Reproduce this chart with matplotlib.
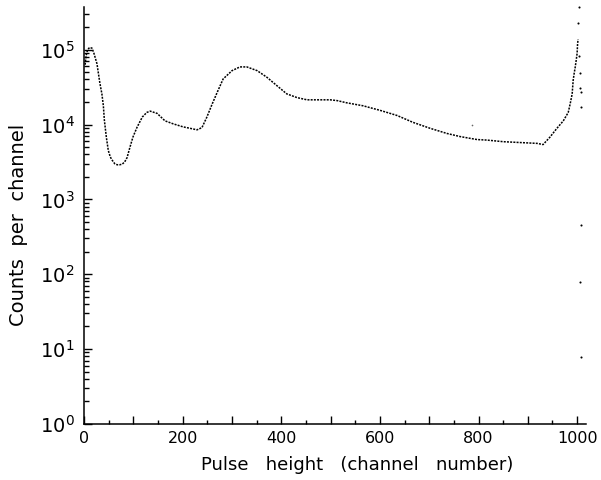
"""Pulse height spectrum, counts per channel on a log scale."""

from __future__ import annotations

import math

import matplotlib
matplotlib.use("Agg")
import matplotlib.pyplot as plt
import matplotlib.ticker as ticker

# main spectrum (channel, counts)
CHANNEL = [
    2, 4, 7, 11, 16, 20, 26, 29, 32, 36, 39, 41, 45, 49, 53, 56, 62, 67, 72, 77,
    82, 87, 93, 99, 107, 118, 127, 134, 148, 164, 181, 201, 215, 229, 239, 249,
    260, 270, 282, 300, 316, 330, 351, 371, 391, 411, 432, 452, 479, 499, 513,
    533, 566, 600, 635, 667, 702, 736, 763, 797, 817, 850, 884, 919, 931, 945,
    959, 972, 982, 986, 990, 992, 994, 996, 998, 1000, 1001, 1002,
]
COUNTS = [
    63000, 83000, 100000, 107000, 105000, 89000, 65000, 48000, 35500, 25700,
    17800, 11500, 6800, 4500, 3700, 3400, 3000, 2900, 2900, 2950,
    3150, 3600, 5000, 6800, 9100, 12600, 14500, 15100, 14100, 11200,
    10200, 9300, 8900, 8500, 9100, 12600, 19000, 27000, 40700, 52500,
    58900, 58900, 52500, 42700, 33100, 25700, 22900, 21400, 21400, 21400,
    20900, 19500, 17800, 15500, 13200, 10700, 8900, 7600, 6900, 6300,
    6200, 5900, 5750, 5600, 5400, 6800, 8900, 11200, 14500, 19000,
    25700, 38900, 48000, 57500, 70800, 89000, 120000, 138000,
]

# isolated points near the top channels
STRAY_CHANNEL = [1002, 1003, 1004, 1006, 1006, 1008, 1008, 1008, 1006, 1008]
STRAY_COUNTS = [229000, 370000, 83000, 49000, 31000, 27500, 17000, 450, 78, 7.8]
# one faint dot under the curve
FAINT_CHANNEL = [787]
FAINT_COUNTS = [9800]

X_TICKS = [0, 200, 400, 600, 800, 1000]


def plot(out_png: str) -> None:
    plt.rcParams["font.family"] = ["DejaVu Sans"]
    plt.rcParams["mathtext.fontset"] = "dejavusans"

    fig = plt.figure(figsize=(6.01, 4.80), dpi=100, facecolor="white")
    ax = fig.add_axes([0.140, 0.117, 0.835, 0.868])

    ax.plot(CHANNEL, COUNTS, color="black", linewidth=1.1, linestyle=(0, (1.3, 0.8)))
    ax.plot(STRAY_CHANNEL, STRAY_COUNTS, linestyle="none", marker="o",
            markersize=1.5, color="black", markeredgewidth=0, clip_on=False)
    ax.plot(FAINT_CHANNEL, FAINT_COUNTS, linestyle="none", marker="o",
            markersize=1.2, color="#666666", markeredgewidth=0)

    ax.set_yscale("log")
    ax.set_xlim(0, 1018)
    ax.set_ylim(1, 3.7e5)

    for side in ("top", "right"):
        ax.spines[side].set_visible(False)
    for side in ("left", "bottom"):
        ax.spines[side].set_linewidth(1.1)

    ax.xaxis.set_major_locator(ticker.MultipleLocator(100))
    ax.xaxis.set_minor_locator(ticker.MultipleLocator(50))
    ax.xaxis.set_major_formatter(
        ticker.FuncFormatter(lambda v, p: f"{int(v)}" if int(v) in X_TICKS else "")
    )
    ax.yaxis.set_major_locator(ticker.LogLocator(base=10, numticks=10))
    ax.yaxis.set_minor_locator(ticker.LogLocator(base=10, subs=range(2, 10), numticks=20))
    ax.yaxis.set_minor_formatter(ticker.NullFormatter())
    ax.yaxis.set_major_formatter(
        ticker.FuncFormatter(lambda v, p: f"$10^{{{int(round(math.log10(v)))}}}$")
    )

    ax.tick_params(axis="both", which="both", direction="in", color="black")
    ax.tick_params(axis="x", which="major", length=6, width=1.0, pad=5, labelsize=11.5)
    ax.tick_params(axis="x", which="minor", length=3, width=1.0)
    ax.tick_params(axis="y", which="major", length=6, width=1.0, pad=7, labelsize=14)
    ax.tick_params(axis="y", which="minor", length=3.5, width=1.0)

    ax.set_xlabel("Pulse   height   (channel   number)", fontsize=13)
    ax.set_ylabel("Counts  per  channel", fontsize=14)
    ax.xaxis.set_label_coords(0.544, -0.076)
    ax.yaxis.set_label_coords(-0.112, 0.477)

    fig.savefig(out_png, dpi=100, facecolor="white")
    plt.close(fig)


def main() -> None:
    plot("out.png")


if __name__ == "__main__":
    main()
